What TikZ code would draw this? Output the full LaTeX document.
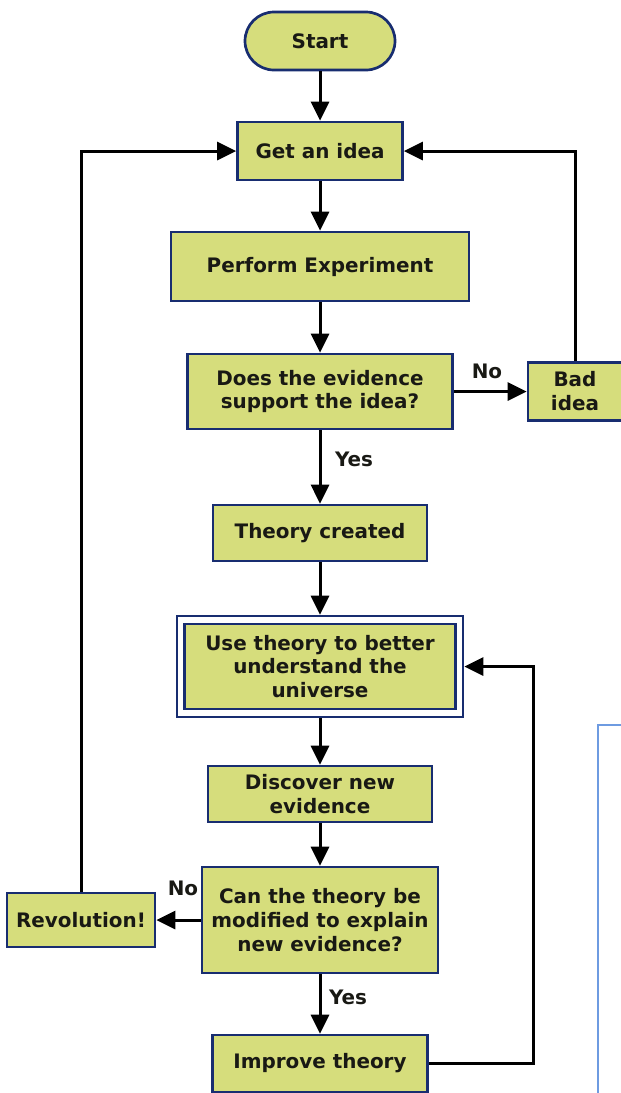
\documentclass[tikz,border=0pt]{standalone}
\usepackage{fontspec}
\setmainfont{DejaVu Sans}
\usetikzlibrary{arrows.meta}
\definecolor{boxfill}{RGB}{214,221,124}
\definecolor{boxline}{RGB}{24,45,112}
\definecolor{txt}{RGB}{25,25,20}
\definecolor{framec}{RGB}{110,155,225}
\begin{document}
\begin{tikzpicture}[x=1bp,y=-1bp,
  box/.style={draw=boxline, line width=2.7bp, fill=boxfill, text=txt,
    font=\bfseries\fontsize{20}{24}\selectfont, align=center, inner sep=0pt},
  conn/.style={line width=3bp, -{Triangle[length=19bp,width=18bp]}},
  lab/.style={text=txt, font=\bfseries\fontsize{20}{24}\selectfont, inner sep=0pt}]
\useasboundingbox (0,0) rectangle (621,1093);
% frame fragment at right
\draw[framec, line width=1.5bp] (598,1100) -- (598,725) -- (630,725);
% nodes
\node[box, rounded corners=29bp, minimum width=150bp, minimum height=58bp] (start) at (320,41) {Start};
\node[box, minimum width=165bp, minimum height=58bp] (getidea) at (320,151) {Get an idea};
\node[box, minimum width=298bp, minimum height=69bp] (perform) at (320,266.5) {Perform Experiment};
\node[box, minimum width=265bp, minimum height=75bp] (does) at (320,391.5) {Does the evidence\\support the idea?};
\node[box, minimum width=94bp, minimum height=58bp] (bad) at (575,391.5) {Bad\\idea};
\node[box, minimum width=214bp, minimum height=56bp] (theory) at (320,533) {Theory created};
\node[draw=boxline, line width=2.7bp, fill=white, minimum width=286bp, minimum height=101bp, inner sep=0pt] (useo) at (320,666.5) {};
\node[box, minimum width=271bp, minimum height=85bp] (use) at (320,666.5) {Use theory to better\\understand the\\universe};
\node[box, minimum width=224bp, minimum height=56bp] (discover) at (320,794) {Discover new\\evidence};
\node[box, minimum width=236bp, minimum height=106bp] (can) at (320,920) {Can the theory be\\modified to explain\\new evidence?};
\node[box, minimum width=148bp, minimum height=54bp] (revolution) at (81,920) {Revolution!};
\node[box, minimum width=215bp, minimum height=57bp] (improve) at (320,1063.5) {Improve theory};
% labels
\node[lab] (no1) at (487,371) {No};
\node[lab] (yes1) at (354,459) {Yes};
\node[lab] (no2) at (183,888) {No};
\node[lab] (yes2) at (348,997) {Yes};
% connectors
\draw[conn] (start) -- (getidea);
\draw[conn] (getidea) -- (perform);
\draw[conn] (perform) -- (does);
\draw[conn] (does) -- (theory);
\draw[conn] (does) -- (bad);
\draw[conn] (bad.north) |- (getidea.east);
\draw[conn] (theory) -- (useo);
\draw[conn] (useo) -- (discover);
\draw[conn] (discover) -- (can);
\draw[conn] (can) -- (improve);
\draw[conn] (can) -- (revolution);
\draw[conn] (revolution.north) |- (getidea.west);
\coordinate (loop) at (533,1063.5);
\draw[conn] (improve.east) -- (loop) |- (useo.east);
\end{tikzpicture}
\end{document}
